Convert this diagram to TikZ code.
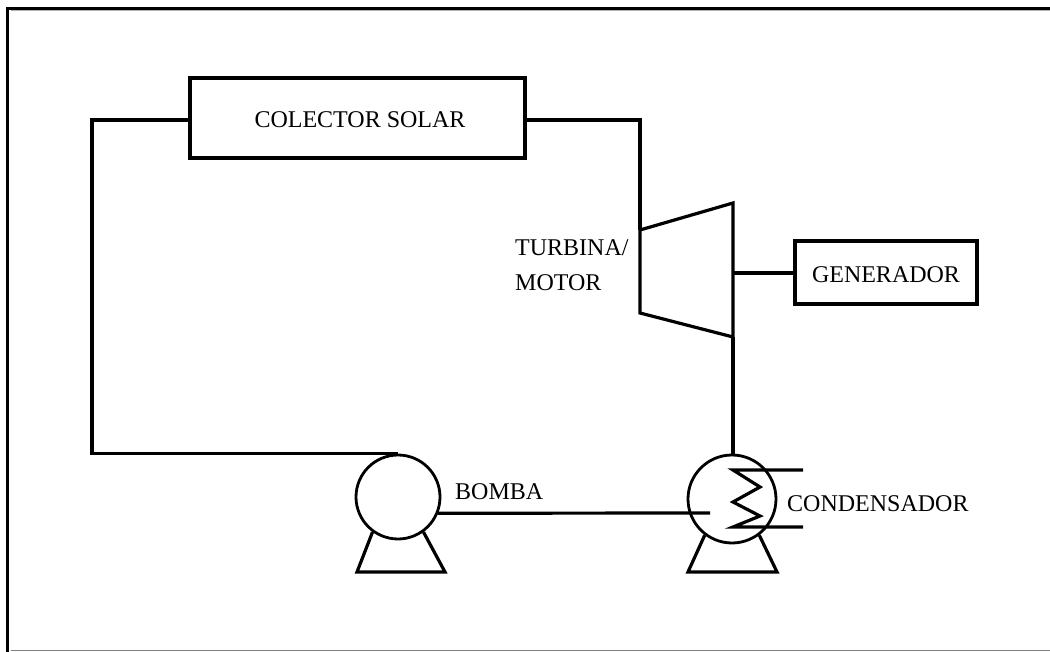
\documentclass[tikz,border=0pt]{standalone}
\usepackage{fontspec}
\setmainfont{Liberation Serif}
\begin{document}
\begin{tikzpicture}[x=1pt,y=-1pt,
  pipe/.style={line width=3.2pt,line join=miter},
  box/.style={draw,line width=3.2pt,rectangle,inner sep=0pt},
  machine/.style={draw,line width=2.8pt,circle,inner sep=0pt,minimum size=#1},
  lbl/.style={font=\fontsize{24}{28}\selectfont,inner sep=0pt}]
\useasboundingbox (0,0) rectangle (1050,652);
% frame
\draw[line width=3.5pt] (7.5,652) -- (7.5,8.5) -- (1050,8.5);
\draw[gray,line width=1.2pt] (10.5,650.5) -- (1050,650.5);
\draw[gray!60,line width=1pt] (10.5,11) -- (1050,11);
% components
\node[box,minimum width=335pt,minimum height=80pt] (coll) at (357.5,118) {};
\node[lbl] (colltxt) at (360,120) {COLECTOR SOLAR};
\node[box,minimum width=182pt,minimum height=63pt] (gen) at (886,272.5) {};
\node[lbl] (gentxt) at (886,275) {GENERADOR};
\node[machine=84pt] (pump) at (398,497) {};
\node[machine=88pt] (cond) at (732,499) {};
% turbine
\coordinate (t1) at (640,230);
\coordinate (t2) at (733,203);
\coordinate (t3) at (733,337);
\coordinate (t4) at (640,313);
\coordinate (tshaft) at (733,273);
\draw[pipe] (t1) -- (t2) -- (t3) -- (t4) -- cycle;
\node[lbl,anchor=west] (turtxt) at (515,248) {TURBINA/};
\node[lbl,anchor=west] (mottxt) at (515,283) {MOTOR};
% labels
\node[lbl,anchor=west] (pumptxt) at (455,492) {BOMBA};
\node[lbl,anchor=west] (condtxt) at (787,504) {CONDENSADOR};
% pipes
\coordinate (lc) at (92,120);
\draw[pipe] (coll.west |- lc) -- (lc) -- (lc |- pump.north) -- (pump.north);
\coordinate (rc) at (640,120);
\draw[pipe] (coll.east |- rc) -- (rc) -- (t1);
\draw[pipe] (tshaft) -- (gen.west |- tshaft);
\draw[pipe] (t3) -- (cond.north -| t3);
\coordinate (cin) at (710,513);
\draw[pipe] (pump.-22) -- (cin);
% condenser coil
\coordinate (c0) at (803,470);
\coordinate (c6) at (803,527);
\draw[pipe] (c0) -- (733,470) -- (760,487) -- (733,502) -- (760,516) -- (733,527) -- (c6);
% legs
\draw[pipe] (pump.-126) -- (357,572) -- (445,572) -- (pump.-54);
\draw[pipe] (cond.-127) -- (688,572) -- (777,572) -- (cond.-53);
\end{tikzpicture}
\end{document}
